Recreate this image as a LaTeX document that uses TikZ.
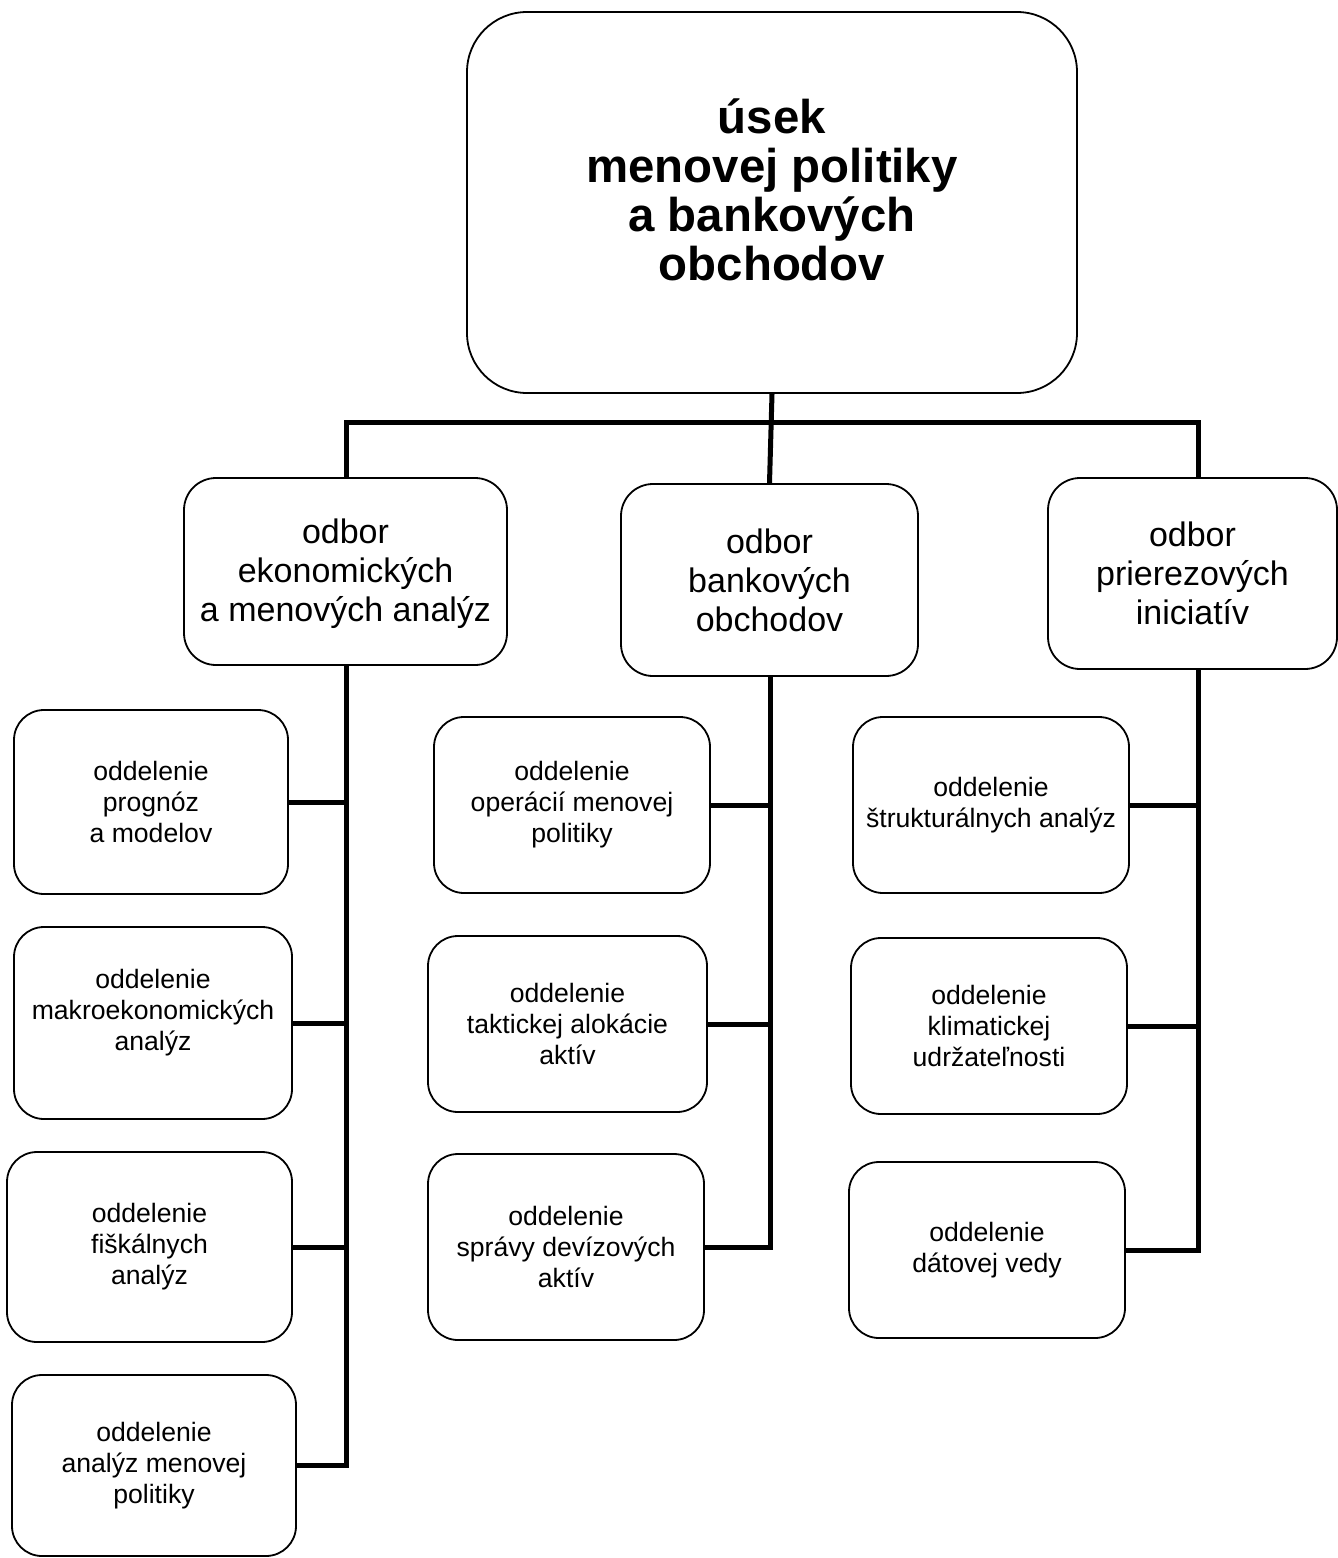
\documentclass[tikz,border=0pt]{standalone}
\usepackage{fontspec}
\setmainfont{Liberation Sans}
% pad a centred block: #1 extra height above, #2 extra depth below
\newcommand{\padblock}[3]{\raisebox{0pt}[\dimexpr\height+#1\relax][\dimexpr\depth+#2\relax]{\begin{tabular}{@{}c@{}}#3\end{tabular}}}
\tikzset{
  boxbase/.style={draw=black, line width=0.9pt, rounded corners=#1, fill=white, align=center, inner sep=0pt},
  topbox/.style={boxbase=30pt, font=\bfseries\fontsize{23.7}{24}\selectfont},
  midbox/.style={boxbase=16pt, font=\fontsize{17}{19.5}\selectfont},
  smallbox/.style={boxbase=15pt, font=\fontsize{13.3}{15.5}\selectfont},
  conn/.style={line width=2.5pt, draw=black}
}
\begin{document}
\begin{tikzpicture}[x=0.5pt,y=-0.5pt]
\useasboundingbox (0,0) rectangle (1338,1558);
% top
\node[topbox, minimum width=305pt, minimum height=190.5pt] (top) at (772,202.5)
  {\padblock{0pt}{6pt}{úsek\\menovej politiky\\a bankových\\obchodov}};
% middle level
\node[midbox, minimum width=161.5pt, minimum height=93.5pt] (mL) at (345.5,571.5)
  {\padblock{3pt}{0pt}{odbor\\ekonomických\\a menových analýz}};
\node[midbox, minimum width=148.5pt, minimum height=96pt] (mC) at (769.5,580)
  {odbor\\bankových\\obchodov};
\node[midbox, minimum width=144.5pt, minimum height=95.5pt] (mR) at (1192.5,573.5)
  {odbor\\prierezových\\iniciatív};
% left column
\node[smallbox, minimum width=137pt, minimum height=92pt] (L1) at (151,802)
  {oddelenie\\prognóz\\a modelov};
\node[smallbox, minimum width=139pt, minimum height=96pt] (L2) at (153,1023)
  {\padblock{0pt}{10pt}{oddelenie\\makroekonomických\\analýz}};
\node[smallbox, minimum width=142.5pt, minimum height=95pt] (L3) at (149.5,1247)
  {oddelenie\\fiškálnych\\analýz};
\node[smallbox, minimum width=142pt, minimum height=90.5pt] (L4) at (154,1465.5)
  {oddelenie\\analýz menovej\\politiky};
% center column
\node[smallbox, minimum width=138pt, minimum height=88pt] (C1) at (572,805)
  {oddelenie\\operácií menovej\\politiky};
\node[smallbox, minimum width=139.5pt, minimum height=88pt] (C2) at (567.5,1024)
  {oddelenie\\taktickej alokácie\\aktív};
\node[smallbox, minimum width=138pt, minimum height=93pt] (C3) at (566,1247)
  {oddelenie\\správy devízových\\aktív};
% right column
\node[smallbox, minimum width=138pt, minimum height=88pt] (R1) at (991,805)
  {oddelenie\\štrukturálnych analýz};
\node[smallbox, minimum width=138pt, minimum height=88pt] (R2) at (989,1026)
  {oddelenie\\klimatickej\\udržateľnosti};
\node[smallbox, minimum width=138pt, minimum height=88pt] (R3) at (987,1250)
  {oddelenie\\dátovej vedy};
% helper coordinates
\coordinate (bar) at (0,422);
\coordinate (tL) at (346,0);
\coordinate (tC) at (770,0);
\coordinate (tR) at (1198,0);
% top connectors
\draw[conn] (top.south) -- (mC.north);
\draw[conn] (tL |- mL.north) -- (tL |- bar) -- (tR |- bar) -- (tR |- mR.north);
% left trunk
\draw[conn] (tL |- mL.south) -- (tL |- L4.east) -- (L4.east);
\draw[conn] (L1.east) -- (L1.east -| tL);
\draw[conn] (L2.east) -- (L2.east -| tL);
\draw[conn] (L3.east) -- (L3.east -| tL);
% center trunk
\draw[conn] (tC |- mC.south) -- (tC |- C3.east) -- (C3.east);
\draw[conn] (C1.east) -- (C1.east -| tC);
\draw[conn] (C2.east) -- (C2.east -| tC);
% right trunk
\draw[conn] (tR |- mR.south) -- (tR |- R3.east) -- (R3.east);
\draw[conn] (R1.east) -- (R1.east -| tR);
\draw[conn] (R2.east) -- (R2.east -| tR);
\end{tikzpicture}
\end{document}
